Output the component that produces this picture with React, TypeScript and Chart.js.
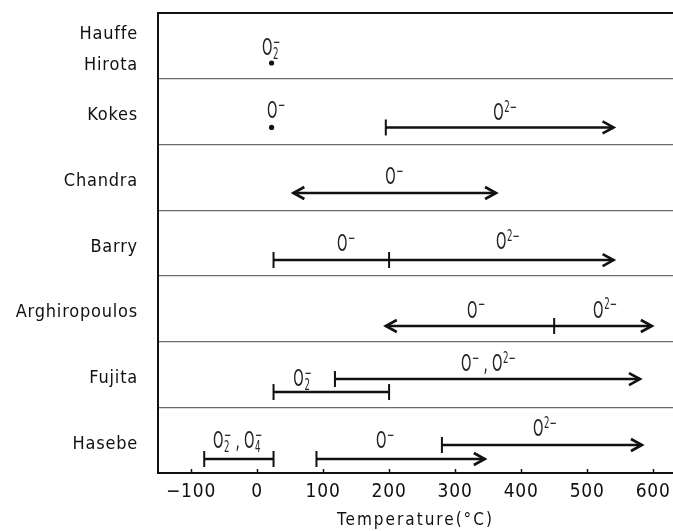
import { useEffect, useRef } from 'react';
import { Chart, registerables } from 'chart.js';

Chart.register(...registerables);

// ---- data ----
const ROWS = ['Hauffe\nHirota', 'Kokes', 'Chandra', 'Barry', 'Arghiropoulos', 'Fujita', 'Hasebe'];
const X_TICKS = [-100, 0, 100, 200, 300, 400, 500, 600];
const X_MIN = -150;
const X_MAX = 630;
const X_TITLE = 'Temperature(°C)';

// temperature ranges (°C) and their level on the row axis
const SEG_FROM = [195, 55, 25, 200, 195, 450, 118, 25, -80, 90, 280];
const SEG_TO = [540, 362, 200, 540, 450, 598, 580, 200, 25, 345, 583];
const SEG_LEVEL = [1.742, 2.739, 3.759, 3.759, 4.763, 4.763, 5.57, 5.768, 6.787, 6.787, 6.574];
const SEG_FROM_END = ['bar', 'arrow', 'bar', 'bar', 'arrow', 'bar', 'bar', 'bar', 'bar', 'bar', 'bar'];
const SEG_TO_END = ['arrow', 'arrow', 'none', 'arrow', 'none', 'arrow', 'arrow', 'bar', 'bar', 'arrow', 'arrow'];

// single-temperature observations
const DOT_T = [22, 22];
const DOT_LEVEL = [0.761, 1.742];

// species labels
const ION_TEXT = ['O_2^−', 'O^−', 'O^2−', 'O^−', 'O^−', 'O^2−', 'O^−', 'O^2−', 'O^− , O^2−', 'O_2^−', 'O_2^− , O_4^−', 'O^−', 'O^2−'];
const ION_T = [7.6, 15, 357.6, 194, 121, 362, 318, 509, 309, 55, -66.7, 180, 418];
const ION_LEVEL = [0.548, 1.507, 1.545, 2.511, 3.531, 3.508, 4.543, 4.543, 5.357, 5.585, 6.536, 6.529, 6.346];

const INK = '#111111';
const FONT = '"DejaVu Sans Condensed", "DejaVu Sans", sans-serif';

function drawEnd(ctx: CanvasRenderingContext2D, x: number, y: number, kind: string, dir: number) {
  if (kind === 'bar') {
    ctx.lineWidth = 2;
    ctx.beginPath();
    ctx.moveTo(x, y - 8);
    ctx.lineTo(x, y + 8);
    ctx.stroke();
  } else if (kind === 'arrow') {
    ctx.lineWidth = 2.6;
    ctx.beginPath();
    ctx.moveTo(x - dir * 11, y - 6);
    ctx.lineTo(x, y);
    ctx.lineTo(x - dir * 11, y + 6);
    ctx.stroke();
  }
}

function drawIon(ctx: CanvasRenderingContext2D, x: number, y: number, text: string) {
  ctx.save();
  ctx.translate(x, y);
  ctx.scale(0.64, 1);
  ctx.textBaseline = 'middle';
  ctx.textAlign = 'left';
  ctx.fillStyle = '#222222';
  let cx = 0;
  const re = /([^_^]+)(?:_([0-9]+))?(?:\^([0-9−]+))?/g;
  let m: RegExpExecArray | null;
  while ((m = re.exec(text))) {
    ctx.font = `23px ${FONT}`;
    ctx.fillText(m[1], cx, 0);
    cx += ctx.measureText(m[1]).width;
    ctx.font = `15px ${FONT}`;
    let w = 0;
    if (m[2]) {
      ctx.fillText(m[2], cx + 1, 6);
      w = ctx.measureText(m[2]).width + 1;
    }
    if (m[3]) {
      ctx.fillText(m[3], cx + 1, -6);
      w = Math.max(w, ctx.measureText(m[3]).width + 1);
    }
    cx += w;
  }
  ctx.restore();
}

const overlay = {
  id: 'overlay',
  afterLayout(chart: any) {
    const sx = chart.scales.x;
    if (sx && !sx.__patched) {
      const orig = sx.drawTitle;
      sx.drawTitle = function (...args: any[]) {
        const c = this.ctx;
        c.save();
        c.letterSpacing = '2px';
        orig.apply(this, args);
        c.restore();
      };
      sx.__patched = true;
    }
  },
  beforeDraw(chart: any) {
    chart.ctx.letterSpacing = '0.8px';
  },
  afterDatasetsDraw(chart: any) {
    const ctx: CanvasRenderingContext2D = chart.ctx;
    ctx.save();
    ctx.letterSpacing = '0px';
    ctx.strokeStyle = INK;
    ctx.fillStyle = INK;
    ctx.lineCap = 'butt';
    ctx.lineJoin = 'miter';
    SEG_FROM.forEach((_, i) => {
      const pts = chart.getDatasetMeta(i).data;
      drawEnd(ctx, pts[0].x, pts[0].y, SEG_FROM_END[i], -1);
      drawEnd(ctx, pts[1].x, pts[1].y, SEG_TO_END[i], 1);
    });
    const sx = chart.scales.x;
    const sy = chart.scales.y;
    const area = chart.chartArea;
    // inward tick marks
    ctx.lineWidth = 1.5;
    sx.ticks.forEach((t: any) => {
      const px = Math.round(sx.getPixelForValue(t.value)) + 0.5;
      ctx.beginPath();
      ctx.moveTo(px, area.bottom);
      ctx.lineTo(px, area.bottom - 4);
      ctx.stroke();
    });
    // top frame line
    ctx.lineWidth = 2;
    ctx.beginPath();
    ctx.moveTo(area.left, area.top);
    ctx.lineTo(area.right, area.top);
    ctx.stroke();
    ION_TEXT.forEach((txt, i) => {
      drawIon(ctx, sx.getPixelForValue(ION_T[i]), sy.getPixelForValue(ION_LEVEL[i]), txt);
    });
    ctx.restore();
  },
  afterDraw(chart: any) {
    chart.ctx.letterSpacing = '0px';
  },
};

export default function App() {
  const ref = useRef<HTMLCanvasElement>(null);
  useEffect(() => {
    const segDatasets = SEG_FROM.map((f, i) => ({
      type: 'line' as const,
      data: [
        { x: f, y: SEG_LEVEL[i] },
        { x: SEG_TO[i], y: SEG_LEVEL[i] },
      ],
      borderColor: INK,
      borderWidth: 2.5,
      pointRadius: 0,
      fill: false,
    }));
    const dotDataset = {
      type: 'line' as const,
      data: DOT_T.map((t, i) => ({ x: t, y: DOT_LEVEL[i] })),
      showLine: false,
      pointRadius: 2.6,
      pointBackgroundColor: INK,
      pointBorderWidth: 0,
      borderColor: INK,
    };
    const chart = new Chart(ref.current as HTMLCanvasElement, {
      type: 'line',
      data: { datasets: [...segDatasets, dotDataset] as any },
      options: {
        animation: false,
        responsive: false,
        devicePixelRatio: 1,
        events: [],
        layout: { autoPadding: false, padding: { top: 13, left: 0, right: 0, bottom: 0 } },
        plugins: { legend: { display: false }, tooltip: { enabled: false } },
        scales: {
          x: {
            type: 'linear',
            min: X_MIN,
            max: X_MAX,
            afterBuildTicks: (s: any) => {
              s.ticks = X_TICKS.map((v) => ({ value: v }));
            },
            afterFit: (s: any) => {
              s.height = 58;
              s.paddingLeft = 0;
              s.paddingRight = 0;
            },
            ticks: {
              autoSkip: false,
              maxRotation: 0,
              padding: 8,
              color: INK,
              font: { family: FONT, size: 19 },
              callback: (v: any) => (v < 0 ? '−' + Math.abs(v) : String(v)),
            },
            grid: { display: false, drawTicks: false },
            border: { display: true, color: INK, width: 2 },
            title: {
              display: true,
              text: X_TITLE,
              color: INK,
              font: { family: FONT, size: 17 },
              padding: { top: 0, bottom: 0 },
            },
          },
          y: {
            type: 'linear',
            reverse: true,
            min: 0,
            max: 7,
            afterBuildTicks: (s: any) => {
              s.ticks = ROWS.map((_, i) => ({ value: i + 0.5 }));
            },
            afterFit: (s: any) => {
              s.width = 158;
              s.paddingTop = 0;
              s.paddingBottom = 0;
            },
            ticks: {
              autoSkip: false,
              padding: 20,
              labelOffset: 4,
              color: INK,
              font: { family: FONT, size: 18, lineHeight: 1.7 },
              callback: (v: any) => ROWS[Math.floor(v)].split('\n'),
            },
            grid: { offset: true, drawTicks: false, color: '#6a6a6a', lineWidth: 1.2 },
            border: { display: true, color: INK, width: 2 },
          },
        },
      } as any,
      plugins: [overlay],
    });
    return () => chart.destroy();
  }, []);
  return (
    <div style={{ position: 'absolute', left: 0, top: 0, width: 673, height: 531, background: '#fff' }}>
      <canvas ref={ref} width={673} height={531} style={{ display: 'block' }} />
    </div>
  );
}
